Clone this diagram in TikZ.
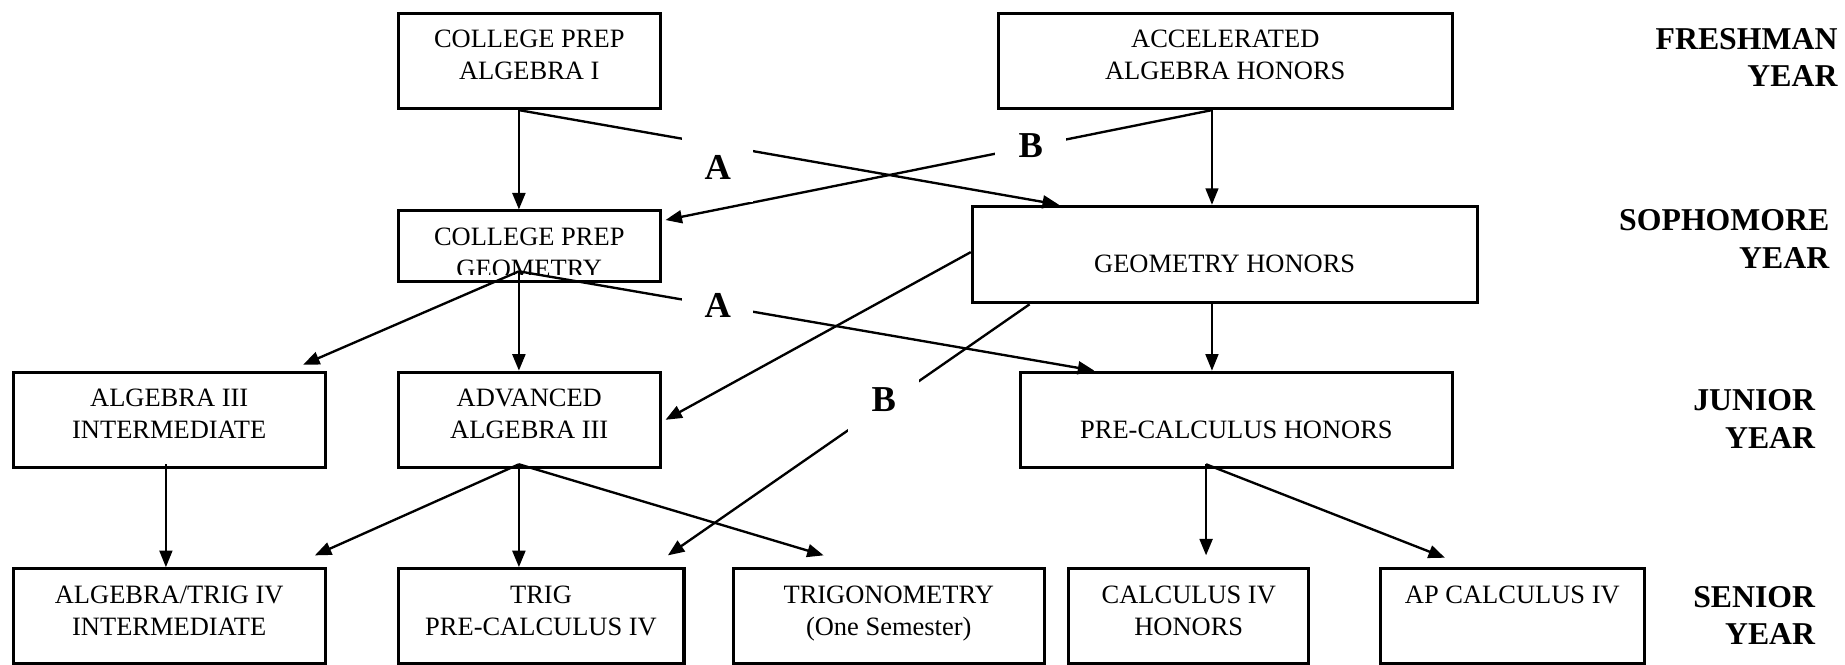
\documentclass[tikz,border=0pt]{standalone}
\usepackage{fontspec}
\setmainfont{Liberation Serif}
\usetikzlibrary{arrows.meta,calc}
\newlength\unitpx
\setlength\unitpx{0.5pt}
\newcommand{\crs}[3]{\parbox[c][#2\unitpx][t]{#1\unitpx}{\centering\rule{0pt}{14.7pt}#3}}

\begin{document}
\begin{tikzpicture}[x=0.5pt,y=-0.5pt,box/.style={draw,line width=1.3pt,inner sep=0pt,anchor=north west,font=\fontsize{11.25}{13.5}\selectfont},yr/.style={anchor=east,align=right,inner sep=0pt,font=\bfseries\fontsize{13.5}{16}\selectfont},ltr/.style={fill=white,minimum width=30pt,minimum height=30pt,font=\bfseries\fontsize{15.5}{17}\selectfont},flow/.style={line width=1pt,-{Triangle[length=7pt,width=5.5pt]}},thinflow/.style={flow,line width=0.75pt}]
\useasboundingbox (0,0) rectangle (1568,565);
\node[box] (alg1) at (337,10) {\crs{223}{81}{COLLEGE PREP\\ALGEBRA I}};
\node[box] (accalg) at (847,10) {\crs{386}{81}{ACCELERATED\\ALGEBRA HONORS}};
\node[box] (cpgeo) at (337,178) {\crs{223}{60}{}};
\begin{scope}
\clip (cpgeo.north west) rectangle ($(cpgeo.south east)+(0,-7)$);
\node[box,draw=none] (cpgeotext) at (cpgeo.north west) {\crs{223}{80}{COLLEGE PREP\\GEOMETRY}};
\end{scope}
\node[box] (geohon) at (825,174) {\crs{429}{82}{\\GEOMETRY HONORS}};
\node[box] (alg3int) at (10,315) {\crs{265}{81}{ALGEBRA III\\INTERMEDIATE}};
\node[box] (advalg) at (337,315) {\crs{223}{81}{ADVANCED\\ALGEBRA III}};
\node[box] (precalc) at (866,315) {\crs{367}{81}{\\PRE-CALCULUS HONORS}};
\node[box] (algtrig) at (10,482) {\crs{265}{81}{ALGEBRA/TRIG IV\\INTERMEDIATE}};
\node[box] (trigpre) at (337,482) {\crs{243}{81}{TRIG\\PRE-CALCULUS IV}};
\node[box] (trigono) at (622,482) {\crs{264}{81}{TRIGONOMETRY\\(One Semester)}};
\node[box] (calchon) at (907,482) {\crs{204}{81}{CALCULUS IV\\HONORS}};
\node[box] (apcalc) at (1172,482) {\crs{224}{81}{AP CALCULUS IV}};
\node[yr] (fresh) at (1562,49) {FRESHMAN\\YEAR};
\node[yr] (soph) at (1555,203) {SOPHOMORE\\YEAR};
\node[yr] (junior) at (1543,356) {JUNIOR\\YEAR};
\node[yr] (senior) at (1543,523) {SENIOR\\YEAR};
\draw[flow] ($(alg1.south west)+(104,0)$) -- ($(cpgeo.north west)+(104,0)$);
\draw[flow] ($(alg1.south west)+(104,0)$) -- ($(geohon.north west)+(75,0)$);
\draw[flow] ($(accalg.south west)+(183,0)$) -- ($(cpgeo.north east)+(3,9)$);
\draw[thinflow] ($(accalg.south west)+(183,0)$) -- ($(geohon.north west)+(205,0)$);
\draw[flow] ($(cpgeo.south west)+(104,-10)$) -- ($(alg3int.north east)+(-20,-5)$);
\draw[flow] ($(cpgeo.south west)+(104,-10)$) -- ($(advalg.north west)+(104,0)$);
\draw[flow] ($(cpgeo.south west)+(104,-10)$) -- ($(precalc.north west)+(64,0)$);
\draw[flow] ($(geohon.west)+(0,-2)$) -- ($(advalg.east)+(3,0)$);
\draw[flow] ($(geohon.south west)+(50,0)$) -- ($(trigpre.north east)+(-15,-10)$);
\draw[thinflow] ($(geohon.south west)+(205,0)$) -- ($(precalc.north west)+(164,0)$);
\draw[thinflow] ($(alg3int.south west)+(131,-4)$) -- ($(algtrig.north west)+(131,0)$);
\draw[flow] ($(advalg.south west)+(104,-4)$) -- ($(algtrig.north east)+(-10,-10)$);
\draw[flow] ($(advalg.south west)+(104,-4)$) -- ($(trigpre.north west)+(104,0)$);
\draw[flow] ($(advalg.south west)+(104,-4)$) -- ($(trigono.north west)+(78,-10)$);
\draw[flow] ($(precalc.south west)+(159,-4)$) -- ($(calchon.north west)+(118,-10)$);
\draw[flow] ($(precalc.south west)+(159,-4)$) -- ($(apcalc.north west)+(56,-8)$);
\node[ltr] (a1) at (610,142) {A};
\node[ltr] (a2) at (610,260) {A};
\node[ltr] (b1) at (876,124) {B};
\node[ltr] (b2) at (751,340) {B};
\end{tikzpicture}
\end{document}
